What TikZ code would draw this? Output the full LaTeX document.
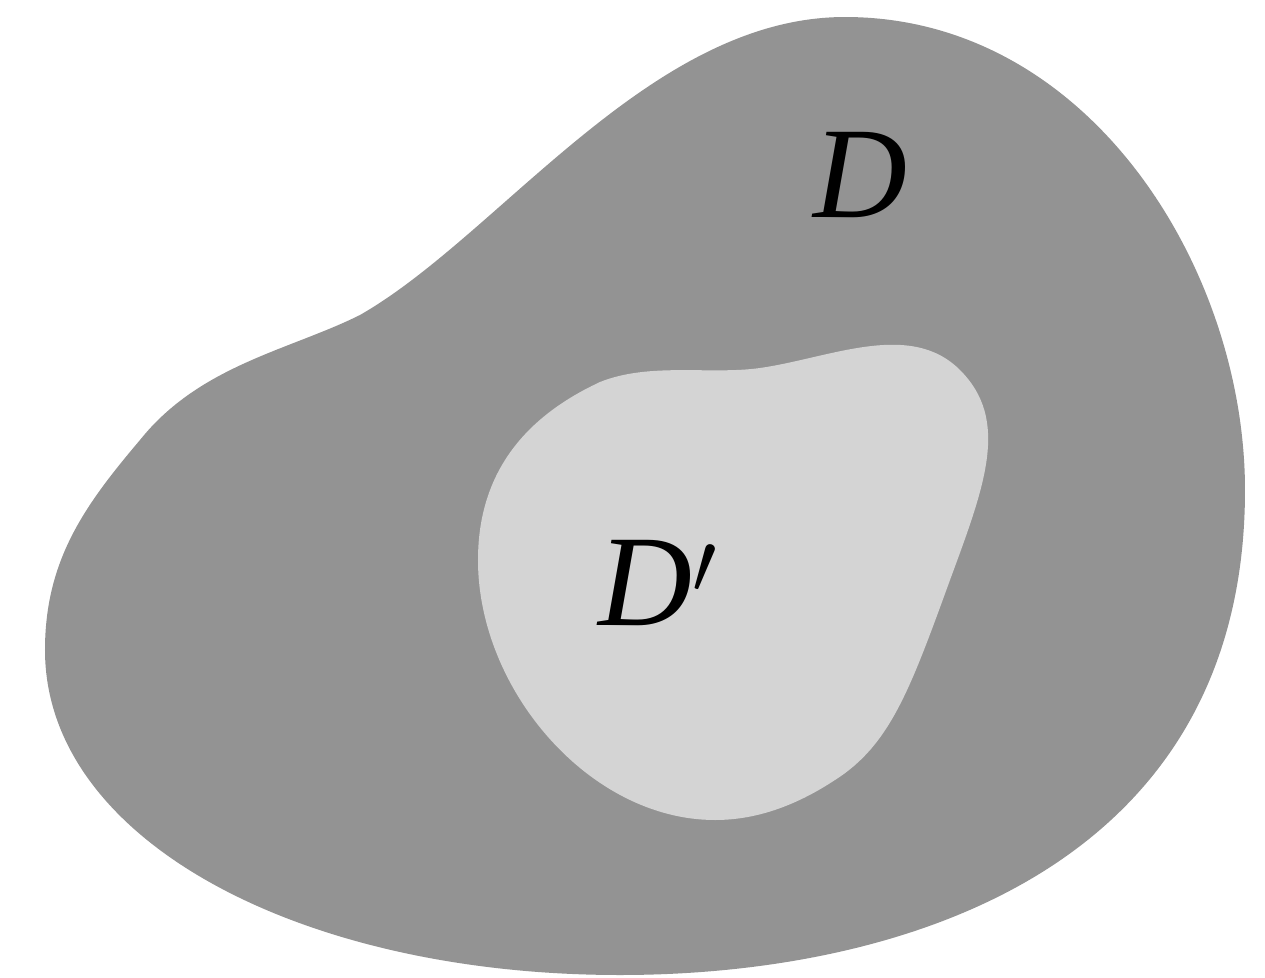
\documentclass[tikz,border=0pt]{standalone}
\usepackage{fontspec}
\setmainfont{Liberation Serif}[ItalicFont={Liberation Serif Italic}]
\begin{document}
\begin{tikzpicture}[x=0.01cm,y=-0.01cm]
\tikzset{
  outerregion/.style={fill={rgb,255:red,147;green,147;blue,147}, draw=none},
  innerregion/.style={fill={rgb,255:red,212;green,212;blue,212}, draw=none},
  lbl/.style={font=\fontsize{37}{40}\selectfont\itshape, inner sep=0pt}
}
\useasboundingbox (0,0) rectangle (1265,978);
\fill[white] (0,0) rectangle (1265,978);
% outer region D
\path[outerregion] (140,440)
  .. controls (200,365) and (290,350) .. (360,315)
  .. controls (500,235) and (650,17) .. (845,17)
  .. controls (1090,17) and (1245,270) .. (1245,490)
  .. controls (1245,870) and (900,975) .. (620,975)
  .. controls (300,975) and (45,840) .. (45,650)
  .. controls (45,560) and (85,505) .. (140,440) -- cycle;
% inner region D'
\path[innerregion] (600,382)
  .. controls (650,362) and (710,375) .. (760,368)
  .. controls (830,358) and (910,320) .. (960,370)
  .. controls (1010,420) and (985,485) .. (950,580)
  .. controls (910,690) and (890,745) .. (835,780)
  .. controls (800,803) and (760,820) .. (715,820)
  .. controls (590,820) and (478,690) .. (478,560)
  .. controls (478,460) and (540,410) .. (600,382) -- cycle;
\node[lbl] (Dlabel) at (860,175) {D};
\node[lbl] (Dplabel) at (658,583) {D$'$};
\end{tikzpicture}
\end{document}
